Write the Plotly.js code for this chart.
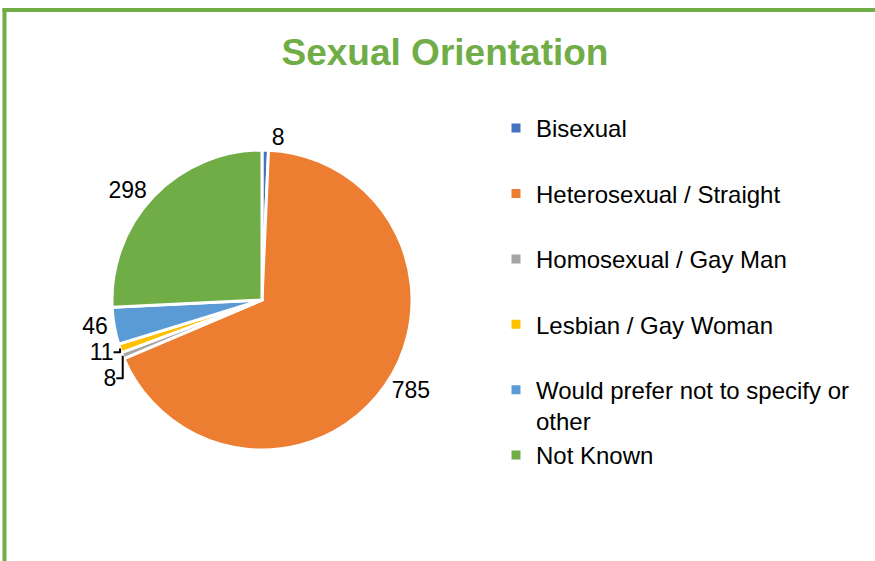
<!DOCTYPE html>
<html>
<head>
<meta charset="utf-8">
<script src="https://cdn.plot.ly/plotly-3.0.1.min.js"></script>
<style>
  body { margin: 0; background: #fff; }
  #chart { width: 875px; height: 561px; }
</style>
</head>
<body>
<div id="chart"></div>
<script>
const categories = [
    'Bisexual',
    'Heterosexual / Straight',
    'Homosexual / Gay Man',
    'Lesbian / Gay Woman',
    'Would prefer not to specify or<br>other',
    'Not Known'
];
const counts = [8, 785, 8, 11, 46, 298];
const sliceColors = ['#4472C4', '#ED7D31', '#A5A5A5', '#FFC000', '#5B9BD5', '#70AD47'];

// pad each legend entry to two lines so the items spread out like the original
const legendLabels = categories.map(function (c) {
    return c.indexOf('<br>') >= 0 ? c : c + '<br> ';
});

const W = 875, H = 561;
const cx = 262, cy = 300, r = 150;

var trace = {
    type: 'pie',
    labels: legendLabels,
    values: counts,
    sort: false,
    direction: 'clockwise',
    rotation: 0,
    marker: { colors: sliceColors, line: { color: '#ffffff', width: 3 } },
    textinfo: 'value',
    textposition: 'outside',
    outsidetextfont: { family: 'Liberation Sans, Arial, sans-serif', size: 23, color: '#000' },
    hoverinfo: 'label+value',
    domain: {
        x: [(cx - r) / W, (cx + r) / W],
        y: [1 - (cy + r) / H, 1 - (cy - r) / H]
    }
};

var layout = {
    width: W,
    height: H,
    margin: { l: 0, r: 0, t: 0, b: 0 },
    paper_bgcolor: '#fff',
    font: { family: 'Liberation Sans, Arial, sans-serif', color: '#000' },
    title: {
        text: '<b>Sexual Orientation</b>',
        font: { size: 37, color: '#70AD47' },
        x: 445 / W,
        xanchor: 'center',
        y: 1 - 52 / H,
        yanchor: 'middle'
    },
    showlegend: true,
    legend: {
        x: 496 / W,
        xanchor: 'left',
        y: 1 - 106 / H,
        yanchor: 'top',
        valign: 'top',
        font: { size: 24, color: '#000' },
        traceorder: 'normal'
    },
    shapes: [
        { type: 'line', xref: 'paper', yref: 'paper', x0: 4.5 / W, x1: 4.5 / W, y0: 0, y1: 1 - 8 / H, line: { color: '#70AD47', width: 4 } },
        { type: 'line', xref: 'paper', yref: 'paper', x0: 2.5 / W, x1: 1, y0: 1 - 10 / H, y1: 1 - 10 / H, line: { color: '#70AD47', width: 4 } }
    ]
};

Plotly.newPlot('chart', [trace], layout, { staticPlot: true });
</script>
</body>
</html>
